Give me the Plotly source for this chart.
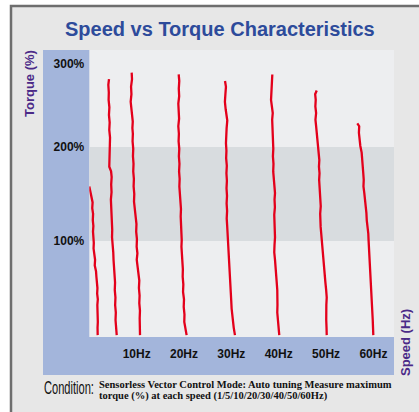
import plotly.graph_objects as go

# ---- data (speed in Hz, torque in %) ----
curve_names = ["1Hz", "5Hz", "10Hz", "20Hz", "30Hz", "40Hz", "50Hz", "60Hz"]

tq_1 = [158, 153, 147, 141, 135, 129, 122, 116, 110, 104, 98, 92, 86, 80, 74, 68, 62, 56, 50, 44, 38, 32, 26, 20, 14, 8, 2, 0]
hz_1 = [0.00, 0.22, 0.45, 0.70, 0.62, 0.80, 0.74, 0.86, 0.78, 0.88, 0.95, 0.90, 1.10, 1.22, 1.15, 1.42, 1.50, 1.62, 1.72, 1.66, 1.80, 1.70, 1.78, 1.72, 1.80, 1.74, 1.78, 1.77]

tq_5 = [272, 266, 258, 250, 242, 234, 226, 218, 210, 202, 194, 186, 179, 174, 168, 160, 152, 144, 136, 128, 120, 112, 104, 96, 88, 80, 72, 64, 56, 48, 40, 32, 24, 16, 8, 0]
hz_5 = [4.16, 4.02, 4.12, 4.08, 4.24, 4.15, 4.30, 4.22, 4.38, 4.30, 4.36, 4.24, 4.22, 4.60, 4.72, 4.62, 4.70, 4.56, 4.64, 4.72, 4.66, 4.84, 4.80, 4.98, 5.06, 5.12, 5.24, 5.30, 5.44, 5.38, 5.52, 5.46, 5.60, 5.54, 5.70, 5.79]

tq_10 = [279, 272, 264, 256, 248, 240, 233, 227, 220, 214, 206, 198, 190, 182, 174, 166, 158, 150, 142, 134, 126, 118, 110, 102, 94, 87, 80, 72, 64, 58, 50, 42, 34, 26, 18, 10, 0]
hz_10 = [8.95, 9.02, 8.82, 8.90, 8.74, 8.86, 9.05, 9.18, 9.10, 9.20, 9.14, 9.28, 9.22, 9.34, 9.28, 9.42, 9.36, 9.50, 9.44, 9.62, 9.74, 9.96, 9.90, 10.06, 10.00, 10.16, 10.02, 10.26, 10.40, 10.56, 10.48, 10.62, 10.56, 10.70, 10.64, 10.74, 10.71]

tq_20 = [277, 270, 262, 254, 246, 238, 230, 222, 214, 206, 198, 190, 182, 174, 166, 158, 150, 142, 134, 126, 118, 110, 101, 94, 86, 78, 70, 62, 54, 46, 38, 30, 22, 14, 8, 0]
hz_20 = [18.88, 19.00, 18.90, 18.98, 18.80, 18.88, 18.96, 18.80, 18.92, 18.86, 19.00, 18.92, 19.04, 18.96, 19.08, 19.02, 19.16, 19.24, 19.36, 19.30, 19.42, 19.38, 19.52, 19.46, 19.60, 19.66, 19.76, 19.72, 19.86, 19.80, 20.00, 19.94, 20.10, 20.06, 20.22, 20.55]

tq_30 = [270, 264, 256, 248, 240, 233, 228, 220, 212, 204, 196, 188, 180, 172, 164, 156, 148, 140, 132, 124, 116, 108, 100, 92, 84, 76, 68, 60, 52, 44, 36, 28, 20, 14, 8, 0]
hz_30 = [28.66, 28.86, 28.74, 28.64, 28.80, 28.96, 29.14, 29.00, 28.92, 28.86, 28.96, 28.90, 29.04, 28.96, 29.06, 28.98, 29.08, 29.00, 29.10, 29.02, 29.12, 29.22, 29.30, 29.40, 29.48, 29.58, 29.66, 29.74, 29.82, 29.90, 29.98, 30.06, 30.20, 30.32, 30.50, 30.76]

tq_40 = [277, 270, 263, 257, 250, 243, 236, 229, 222, 214, 206, 198, 190, 182, 174, 166, 158, 151, 144, 136, 128, 120, 112, 104, 96, 88, 80, 72, 64, 56, 48, 40, 32, 24, 16, 8, 0]
hz_40 = [38.65, 38.58, 38.66, 38.50, 38.38, 38.56, 38.74, 38.62, 38.68, 38.80, 38.72, 38.86, 38.78, 38.90, 38.84, 38.98, 39.10, 39.22, 39.12, 39.20, 39.06, 39.14, 39.08, 39.22, 39.12, 39.06, 39.22, 39.38, 39.50, 39.58, 39.70, 39.64, 39.74, 39.70, 39.80, 39.92, 40.12]

tq_50 = [260, 256, 250, 243, 236, 229, 222, 215, 207, 200, 193, 186, 179, 172, 165, 158, 151, 144, 137, 129, 122, 115, 108, 101, 94, 87, 80, 72, 64, 56, 48, 40, 32, 24, 16, 8, 0]
hz_50 = [48.03, 47.70, 47.82, 47.74, 47.90, 47.76, 47.90, 48.02, 48.16, 48.30, 48.44, 48.58, 48.50, 48.62, 48.54, 48.60, 48.72, 48.80, 48.88, 48.76, 48.74, 48.86, 48.98, 49.08, 49.20, 49.30, 49.42, 49.58, 49.76, 49.86, 50.02, 50.14, 50.06, 50.00, 50.04, 50.10, 50.14]

tq_60 = [225, 222, 215, 208, 201, 194, 187, 180, 172, 165, 158, 151, 144, 137, 130, 122, 115, 108, 101, 94, 87, 80, 73, 66, 58, 51, 44, 37, 30, 23, 16, 8, 0]
hz_60 = [56.60, 57.00, 56.94, 57.04, 57.24, 57.52, 57.58, 57.74, 57.86, 57.96, 57.90, 58.08, 58.26, 58.44, 58.52, 58.60, 58.78, 58.92, 58.98, 59.06, 59.14, 59.24, 59.32, 59.42, 59.50, 59.58, 59.64, 59.70, 59.74, 59.80, 59.86, 59.92, 59.98]

x_tick_vals = [10, 20, 30, 40, 50, 60]
x_tick_text = ["10Hz", "20Hz", "30Hz", "40Hz", "50Hz", "60Hz"]
y_tick_vals = [100, 200, 288]
y_tick_text = ["100%", "200%", "300%"]
band_low, band_high = 100, 200

curves = [(hz_1, tq_1), (hz_5, tq_5), (hz_10, tq_10), (hz_20, tq_20),
          (hz_30, tq_30), (hz_40, tq_40), (hz_50, tq_50), (hz_60, tq_60)]

W, H = 419, 412
def px(p):
    return p / W
def py(p):
    return 1 - p / H

fig = go.Figure()
for name, (xs, ys) in zip(curve_names, curves):
    fig.add_trace(go.Scatter(x=xs, y=ys, mode="lines", name=name,
                             line=dict(color="#e3001b", width=2.3),
                             showlegend=False, hoverinfo="skip"))

shapes = [
    # outer frame
    dict(type="rect", xref="paper", yref="paper", x0=px(11), x1=px(430),
         y0=py(430), y1=py(6), fillcolor="#e7e7e7",
         line=dict(color="#6e6e6e", width=2.5), layer="below"),
    # blue L-shaped axis region
    dict(type="rect", xref="paper", yref="paper", x0=px(43), x1=px(394),
         y0=py(375), y1=py(50), fillcolor="#a3b5db", line=dict(width=0), layer="below"),
    # plot area
    dict(type="rect", xref="paper", yref="paper", x0=px(89.3), x1=px(394),
         y0=py(337), y1=py(50), fillcolor="#edeef0", line=dict(width=0), layer="below"),
    # grey band 100-200%
    dict(type="rect", xref="paper", yref="y", x0=px(89.3), x1=px(394),
         y0=band_low, y1=band_high, fillcolor="#d8dcdf", line=dict(width=0), layer="below"),
]

annotations = [
    dict(text="<b>Speed vs Torque Characteristics</b>", x=px(220), y=py(29),
         xref="paper", yref="paper", showarrow=False, xanchor="center", yanchor="middle",
         font=dict(family="Liberation Sans, Arial", size=20, color="#2d4b9b")),
    dict(text="<b>Torque (%)</b>", x=px(29), y=py(83), xref="paper", yref="paper",
         showarrow=False, textangle=-90, xanchor="center", yanchor="middle",
         font=dict(family="Liberation Sans, Arial", size=13, color="#4b2a88")),
    dict(text="<b>Speed (Hz)</b>", x=px(405), y=py(343), xref="paper", yref="paper",
         showarrow=False, textangle=-90, xanchor="center", yanchor="middle",
         font=dict(family="Liberation Sans, Arial", size=13, color="#4b2a88")),
    dict(text="Condition:", x=px(42), y=py(387), xref="paper", yref="paper",
         showarrow=False, xanchor="left", yanchor="middle",
         font=dict(family="Liberation Sans, Arial", size=15, color="#111111")),
    dict(text="<b>Sensorless Vector Control Mode: Auto tuning Measure maximum</b>",
         x=px(97), y=py(384.5), xref="paper", yref="paper", showarrow=False,
         xanchor="left", yanchor="middle",
         font=dict(family="Liberation Serif, Times New Roman", size=10.5, color="#111111")),
    dict(text="<b>torque (%) at each speed (1/5/10/20/30/40/50/60Hz)</b>",
         x=px(97), y=py(396), xref="paper", yref="paper", showarrow=False,
         xanchor="left", yanchor="middle",
         font=dict(family="Liberation Serif, Times New Roman", size=10.5, color="#111111")),
]

fig.update_layout(
    width=W, height=H, autosize=False,
    margin=dict(l=0, r=0, t=0, b=0),
    paper_bgcolor="white", plot_bgcolor="rgba(0,0,0,0)",
    shapes=shapes, annotations=annotations,
    xaxis=dict(domain=[px(89.3), px(394)], range=[0, 64.35], showgrid=False,
               zeroline=False, showline=False, ticks="", tickvals=x_tick_vals,
               ticktext=x_tick_text, ticklabelstandoff=8, fixedrange=True,
               tickfont=dict(family="Liberation Sans, Arial", size=12, color="#111111", weight="bold")),
    yaxis=dict(domain=[py(337), py(50)], range=[-2, 303], showgrid=False,
               zeroline=False, showline=False, ticks="", tickvals=y_tick_vals,
               ticktext=y_tick_text, ticklabelstandoff=4, fixedrange=True,
               tickfont=dict(family="Liberation Sans, Arial", size=12, color="#111111", weight="bold")),
)

post = """
document.body.style.margin='0';
document.body.style.overflow='hidden';
document.querySelectorAll('g.annotation text').forEach(function(t){
  if (t.textContent.trim() === 'Condition:') {
    t.style.transformBox = 'fill-box';
    t.style.transformOrigin = 'left center';
    t.style.transform = 'scale(0.74,1.25)';
  }
});
"""

fig.write_html("out.html", config={"displayModeBar": False, "staticPlot": True},
               post_script=post)
